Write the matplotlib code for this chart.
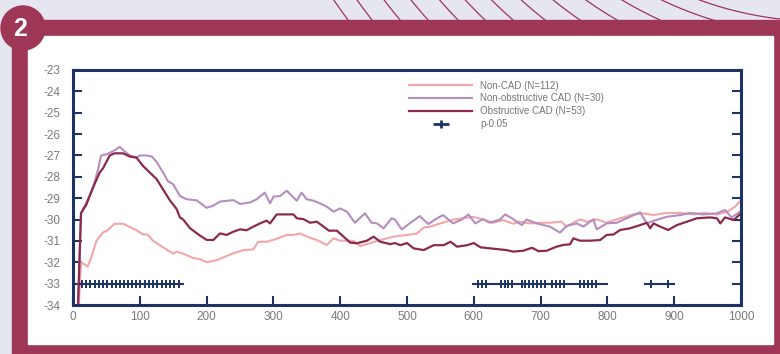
import numpy as np
import matplotlib
matplotlib.use('Agg')
from matplotlib import pyplot as plt
from matplotlib.path import Path
from matplotlib.patches import Rectangle, Circle
from matplotlib.lines import Line2D

plt.rcParams['font.family'] = ['Liberation Sans', 'DejaVu Sans']
plt.rcParams['axes.unicode_minus'] = False

# values
non_cad_x = [8, 12, 22, 27, 35, 45, 52, 62, 75, 85, 95, 105, 112, 120, 130, 140, 150, 155, 165, 180,
             190, 200, 215, 240, 255, 270, 277, 290, 302, 320, 330, 340, 350, 365, 380, 390, 400, 412,
             420, 430, 445, 460, 480, 500, 515, 525, 535, 550, 570, 584, 599, 614, 629, 644, 659, 669,
             684, 699, 714, 731, 739, 749, 759, 769, 784, 799, 814, 839, 854, 869, 889, 909, 929, 944,
             964, 979, 991, 1000]
non_cad_y = [-34.5, -32.0, -32.2, -31.8, -31.0, -30.6, -30.5, -30.2, -30.2, -30.35, -30.5, -30.7, -30.7,
             -31.0, -31.2, -31.4, -31.6, -31.5, -31.6, -31.8, -31.85, -32.0, -31.9, -31.58, -31.43, -31.4,
             -31.04, -31.04, -30.93, -30.72, -30.72, -30.65, -30.8, -30.96, -31.19, -30.88, -30.99, -30.99,
             -31.0, -31.24, -31.1, -30.96, -30.8, -30.72, -30.65, -30.37, -30.33, -30.18, -30.0, -29.94,
             -29.87, -30.0, -30.15, -30.02, -30.2, -30.1, -30.18, -30.15, -30.15, -30.1, -30.33, -30.15,
             -29.99, -30.1, -29.99, -30.15, -29.99, -29.76, -29.71, -29.79, -29.69, -29.69, -29.76, -29.69,
             -29.76, -29.64, -29.4, -29.1]

non_obs_x = [7, 12, 20, 30, 38, 42, 50, 60, 70, 77, 85, 95, 100, 110, 118, 125, 135, 142, 150, 160, 170,
             185, 200, 210, 220, 240, 250, 265, 275, 287, 295, 300, 310, 320, 335, 342, 350, 360, 370, 380,
             390, 400, 410, 422, 437, 447, 455, 465, 477, 482, 492, 504, 519, 532, 542, 554, 569, 582, 592,
             602, 614, 624, 639, 647, 657, 672, 679, 694, 714, 729, 739, 754, 764, 779, 784, 799, 814, 829,
             849, 859, 869, 889, 909, 924, 944, 964, 976, 986, 1000]
non_obs_y = [-34.5, -29.7, -29.2, -28.5, -27.6, -27.0, -26.95, -26.8, -26.6, -26.8, -27.0, -27.1, -27.0,
             -27.0, -27.05, -27.3, -27.8, -28.2, -28.35, -28.9, -29.05, -29.1, -29.45, -29.35, -29.16,
             -29.09, -29.27, -29.2, -29.05, -28.74, -29.24, -28.93, -28.9, -28.65, -29.12, -28.74, -29.05,
             -29.12, -29.24, -29.4, -29.63, -29.48, -29.63, -30.15, -29.71, -30.15, -30.18, -30.41, -29.94,
             -30.0, -30.46, -30.18, -29.84, -30.21, -30.0, -29.79, -30.18, -30.0, -29.76, -30.18, -29.98,
             -30.15, -30.0, -29.76, -29.94, -30.26, -30.0, -30.18, -30.33, -30.61, -30.3, -30.18, -30.33,
             -29.99, -30.46, -30.18, -30.15, -29.94, -29.66, -30.18, -30.06, -29.87, -29.79, -29.69, -29.76,
             -29.71, -29.55, -29.9, -29.6]

obs_x = [7, 12, 20, 30, 40, 45, 55, 62, 75, 85, 95, 105, 115, 125, 135, 145, 155, 160, 165, 175, 190,
         200, 210, 220, 230, 240, 250, 260, 270, 280, 290, 295, 305, 330, 335, 345, 355, 365, 375, 383,
         395, 405, 415, 425, 440, 450, 460, 475, 482, 490, 500, 510, 525, 540, 555, 565, 575, 590, 600,
         610, 625, 634, 649, 659, 674, 687, 697, 709, 724, 734, 744, 749, 759, 774, 789, 799, 809, 819,
         834, 849, 859, 864, 869, 879, 891, 904, 919, 934, 954, 964, 969, 976, 989, 1000]
obs_y = [-34.5, -29.7, -29.3, -28.5, -27.8, -27.6, -27.0, -26.9, -26.9, -27.05, -27.1, -27.5, -27.8,
         -28.1, -28.6, -29.1, -29.5, -29.9, -30.0, -30.4, -30.75, -30.95, -30.96, -30.65, -30.72, -30.57,
         -30.46, -30.5, -30.33, -30.18, -30.05, -30.18, -29.76, -29.76, -29.94, -29.98, -30.15, -30.1,
         -30.33, -30.52, -30.52, -30.8, -31.08, -31.11, -30.99, -30.8, -31.04, -31.15, -31.1, -31.2,
         -31.1, -31.35, -31.43, -31.2, -31.2, -31.04, -31.27, -31.2, -31.1, -31.3, -31.35, -31.38,
         -31.43, -31.5, -31.46, -31.32, -31.48, -31.46, -31.27, -31.19, -31.16, -30.88, -30.99, -30.99,
         -30.96, -30.72, -30.7, -30.49, -30.41, -30.26, -30.15, -30.41, -30.18, -30.33, -30.49, -30.26,
         -30.1, -29.94, -29.9, -29.94, -30.18, -29.9, -30.02, -29.71]

# p<0.05 points, drawn at y = -33
sig_x = [14, 20, 26, 33, 39, 45, 51, 58, 64, 70, 76, 83, 89, 95, 101, 108, 114, 120, 126, 133, 139,
         145, 151, 158,
         607, 613, 619, 640, 646, 651, 657, 672, 677, 683, 688, 694, 700, 706, 717, 723, 729, 735,
         759, 765, 771, 777, 783,
         866, 891]
sig_spans = [(10, 165), (599, 799), (856, 899)]
sig_level = -33

labels = ['Non-CAD (N=112)', 'Non-obstructive CAD (N=30)', 'Obstructive CAD (N=53)', 'p-0.05']

navy = '#1c3463'
maroon = '#9e3656'
lavender = '#e6e6f0'
c_pink = '#f3a6aa'
c_purple = '#b48ec0'
c_dark = '#8c2a4e'

W, H = 780, 354
fig = plt.figure(figsize=(W / 100, H / 100), dpi=100)

# background panel in pixel coords
bg = fig.add_axes([0, 0, 1, 1])
bg.set_xlim(0, W)
bg.set_ylim(H, 0)
bg.axis('off')
bg.add_patch(Rectangle((0, 0), W, H, color=lavender, zorder=0))

# decorative arcs at the top
cx, cy = 820, -330
for x0 in [348, 372, 400, 428, 458, 485, 513, 545, 580, 617, 660, 713, 790]:
    r = np.hypot(x0 - cx, 20 - cy)
    t = np.linspace(np.pi / 2, np.pi, 400)
    bg.plot(cx + r * np.cos(t), cy + r * np.sin(t), color=maroon, lw=0.9, zorder=1)

bg.add_patch(Rectangle((12, 20), W - 12, H - 20, color=maroon, zorder=2))
bg.add_patch(Rectangle((28, 36), 773 - 28, 344 - 36, color='white', zorder=3))
bg.add_patch(Circle((23, 28), 22, color=maroon, zorder=4))
bg.text(20, 29, '2', color='white', fontsize=18, fontweight='bold',
        ha='center', va='center', zorder=5)

ax = fig.add_axes([73 / W, (H - 305) / H, (741 - 73) / W, (305 - 70) / H])

ax.plot(non_cad_x, non_cad_y, color=c_pink, lw=1.5)
ax.plot(non_obs_x, non_obs_y, color=c_purple, lw=1.5)
ax.plot(obs_x, obs_y, color=c_dark, lw=1.6)

for a, b in sig_spans:
    ax.plot([a, b], [sig_level, sig_level], color=navy, lw=1.5)
ax.plot(sig_x, [sig_level] * len(sig_x), ls='none', marker='|', ms=6, mew=1.4, color=navy)

ax.set_xlim(0, 1000)
ax.set_ylim(-34, -23)
ax.set_xticks(np.arange(0, 1001, 100))
ax.set_yticks(np.arange(-34, -22, 1))

for s in ax.spines.values():
    s.set_color(navy)
    s.set_linewidth(2.2)
ax.tick_params(direction='in', colors=navy, length=6.5, width=1.5,
               labelcolor='#7a7a7a', labelsize=8.5)
ax.tick_params(axis='y', right=True, pad=9)
ax.tick_params(axis='x', pad=4)

# legend, with a wide plus for the significance marker
plus = Path([(-1, 0), (1, 0), (0, -0.55), (0, 0.55)],
            [Path.MOVETO, Path.LINETO, Path.MOVETO, Path.LINETO])
handles = [Line2D([], [], color=c_pink, lw=1.5),
           Line2D([], [], color=c_purple, lw=1.5),
           Line2D([], [], color=c_dark, lw=1.6),
           Line2D([], [], ls='none', marker=plus, ms=11, mew=2, color=navy)]
leg = ax.legend(handles, labels, loc='upper left', bbox_to_anchor=(0.503, 0.955),
                frameon=False, fontsize=7, handlelength=6.5, handletextpad=0.8,
                labelspacing=0.3, borderpad=0, borderaxespad=0)
for t in leg.get_texts():
    t.set_color('#777777')

plt.savefig('out.png', dpi=100)
